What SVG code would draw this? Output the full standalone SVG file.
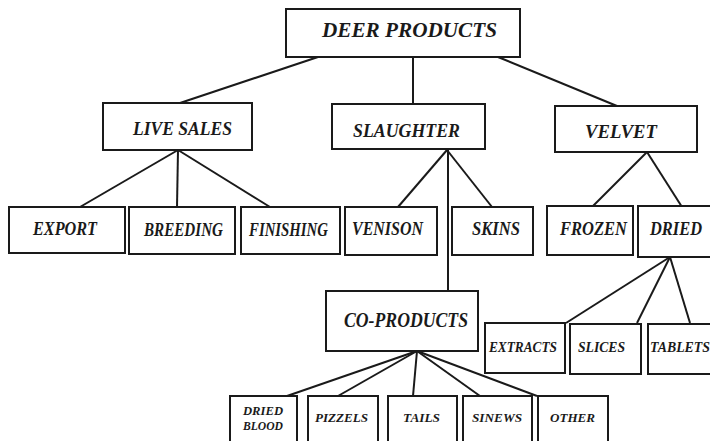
<svg xmlns="http://www.w3.org/2000/svg" width="710" height="441" viewBox="0 0 710 441">
<style>
.box{fill:#fff;stroke:#1a1a1a;stroke-width:2}
.lbl{font-family:"Liberation Serif","Times New Roman",serif;font-weight:bold;font-style:italic;fill:#1a1a1a}
.l1{font-size:20px}
.l2{font-size:18px}
.l3{font-size:14px}
.l4{font-size:12px}
#connectors line{stroke:#1a1a1a;stroke-width:2}
</style>
<rect width="710" height="441" fill="#fff"/>
<g id="connectors">
<line x1="318" y1="57" x2="180" y2="103"/>
<line x1="413" y1="57" x2="413" y2="104"/>
<line x1="498" y1="57" x2="617" y2="106"/>
<line x1="178" y1="150" x2="80" y2="207"/>
<line x1="178" y1="150" x2="177" y2="207"/>
<line x1="178" y1="150" x2="270" y2="207"/>
<line x1="447" y1="150" x2="398" y2="207"/>
<line x1="447" y1="150" x2="492" y2="207"/>
<line x1="448" y1="150" x2="448" y2="291"/>
<line x1="647" y1="152" x2="592" y2="207"/>
<line x1="647" y1="152" x2="682" y2="207"/>
<line x1="670" y1="257" x2="566" y2="323"/>
<line x1="670" y1="257" x2="637" y2="323"/>
<line x1="670" y1="257" x2="690" y2="323"/>
<line x1="417" y1="351" x2="287" y2="396"/>
<line x1="417" y1="351" x2="338" y2="396"/>
<line x1="417" y1="351" x2="413" y2="396"/>
<line x1="417" y1="351" x2="480" y2="396"/>
<line x1="417" y1="351" x2="537" y2="396"/>
</g>
<g id="deer-products"><rect class="box" x="286" y="9" width="234" height="48"/><text class="lbl l1" x="322" y="37" textLength="175" lengthAdjust="spacingAndGlyphs">DEER PRODUCTS</text></g>
<g id="live-sales"><rect class="box" x="103" y="103" width="149" height="47"/><text class="lbl l2" x="133" y="135" textLength="99" lengthAdjust="spacingAndGlyphs">LIVE SALES</text></g>
<g id="slaughter"><rect class="box" x="332" y="104" width="153" height="45"/><text class="lbl l2" x="353" y="137" textLength="107" lengthAdjust="spacingAndGlyphs">SLAUGHTER</text></g>
<g id="velvet"><rect class="box" x="555" y="106" width="142" height="46"/><text class="lbl l2" x="585" y="138" textLength="72" lengthAdjust="spacingAndGlyphs">VELVET</text></g>
<g id="export"><rect class="box" x="9" y="207" width="116" height="46"/><text class="lbl l2" x="33" y="235" textLength="64" lengthAdjust="spacingAndGlyphs">EXPORT</text></g>
<g id="breeding"><rect class="box" x="129" y="207" width="106" height="47"/><text class="lbl l2" x="144" y="236" textLength="79" lengthAdjust="spacingAndGlyphs">BREEDING</text></g>
<g id="finishing"><rect class="box" x="241" y="207" width="99" height="47"/><text class="lbl l2" x="249" y="236" textLength="79" lengthAdjust="spacingAndGlyphs">FINISHING</text></g>
<g id="venison"><rect class="box" x="345" y="207" width="92" height="48"/><text class="lbl l2" x="352" y="235" textLength="71" lengthAdjust="spacingAndGlyphs">VENISON</text></g>
<g id="skins"><rect class="box" x="452" y="207" width="81" height="48"/><text class="lbl l2" x="472" y="235" textLength="48" lengthAdjust="spacingAndGlyphs">SKINS</text></g>
<g id="frozen"><rect class="box" x="547" y="206" width="86" height="49"/><text class="lbl l2" x="560" y="235" textLength="67" lengthAdjust="spacingAndGlyphs">FROZEN</text></g>
<g id="dried"><rect class="box" x="638" y="206" width="80" height="51"/><text class="lbl l2" x="650" y="235" textLength="52" lengthAdjust="spacingAndGlyphs">DRIED</text></g>
<g id="co-products"><rect class="box" x="326" y="291" width="152" height="60"/><text class="lbl l1" x="344" y="327" textLength="124" lengthAdjust="spacingAndGlyphs">CO-PRODUCTS</text></g>
<g id="extracts"><rect class="box" x="485" y="323" width="80" height="50"/><text class="lbl l3" x="489" y="352" textLength="68" lengthAdjust="spacingAndGlyphs">EXTRACTS</text></g>
<g id="slices"><rect class="box" x="570" y="324" width="71" height="50"/><text class="lbl l3" x="578" y="352" textLength="47" lengthAdjust="spacingAndGlyphs">SLICES</text></g>
<g id="tablets"><rect class="box" x="648" y="324" width="70" height="50"/><text class="lbl l3" x="650" y="352" textLength="60" lengthAdjust="spacingAndGlyphs">TABLETS</text></g>
<g id="dried-blood"><rect class="box" x="230" y="396" width="67" height="50"/><text class="lbl l4" x="243" y="415" textLength="40" lengthAdjust="spacingAndGlyphs">DRIED</text><text class="lbl l4" x="243" y="430" textLength="40" lengthAdjust="spacingAndGlyphs">BLOOD</text></g>
<g id="pizzels"><rect class="box" x="308" y="396" width="70" height="50"/><text class="lbl l4" x="315" y="422" textLength="53" lengthAdjust="spacingAndGlyphs">PIZZELS</text></g>
<g id="tails"><rect class="box" x="388" y="396" width="69" height="50"/><text class="lbl l4" x="403" y="422" textLength="37" lengthAdjust="spacingAndGlyphs">TAILS</text></g>
<g id="sinews"><rect class="box" x="463" y="396" width="69" height="50"/><text class="lbl l4" x="472" y="422" textLength="50" lengthAdjust="spacingAndGlyphs">SINEWS</text></g>
<g id="other"><rect class="box" x="538" y="396" width="70" height="50"/><text class="lbl l4" x="550" y="422" textLength="45" lengthAdjust="spacingAndGlyphs">OTHER</text></g>
</svg>
